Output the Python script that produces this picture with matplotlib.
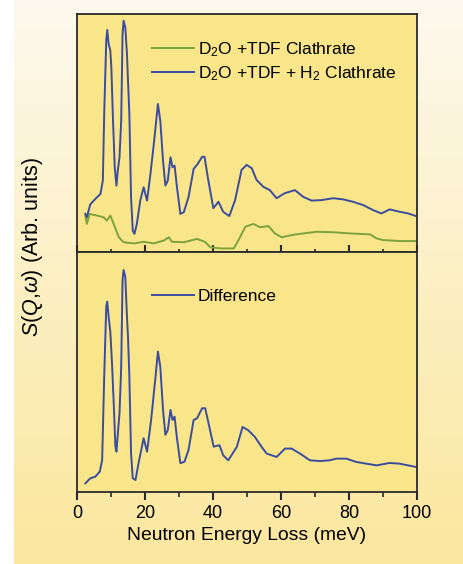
import matplotlib
matplotlib.use("Agg")
import matplotlib.pyplot as plt
import numpy as np
from matplotlib.colors import LinearSegmentedColormap
from matplotlib.ticker import MultipleLocator

plt.rcParams["font.family"] = ["Liberation Sans", "DejaVu Sans"]
plt.rcParams["mathtext.fontset"] = "custom"
plt.rcParams["mathtext.rm"] = "Liberation Sans"
plt.rcParams["mathtext.it"] = "Liberation Sans:italic"

# Energy loss (meV) and intensities (arb. units)
e_h2 = [2.45, 2.9, 3.9, 5.4, 6.9, 7.6, 8.0, 8.6, 8.9, 9.3, 9.8, 10.1, 10.6, 11.1,
        11.6, 12.0, 12.5, 13.0, 13.4, 13.7, 14.2, 14.7, 15.0, 15.4, 15.9, 16.4,
        16.9, 17.6, 18.6, 19.6, 20.6, 21.6, 22.7, 23.8, 24.5, 25.3, 26.0, 26.7,
        27.5, 28.1, 28.7, 29.4, 30.4, 31.4, 32.8, 34.3, 35.5, 36.8, 37.5, 38.6,
        40.1, 41.6, 43.0, 44.8, 46.5, 48.4, 49.9, 51.4, 52.8, 54.8, 56.7, 58.7,
        61.1, 64.1, 66.5, 69.0, 71.9, 75.3, 78.3, 81.2, 84.2, 87.1, 89.5, 92.0,
        94.9, 97.4, 99.7]
s_h2 = [16.0, 14.6, 20.0, 22.3, 24.4, 30.0, 58.0, 88.8, 93.3, 87.4, 84.6, 77.6,
        55.0, 35.6, 27.9, 34.2, 39.8, 55.2, 91.6, 97.2, 94.4, 83.2, 72.0, 58.0,
        23.0, 9.0, 7.6, 11.8, 21.6, 27.2, 21.6, 32.8, 46.8, 62.2, 55.2, 38.4,
        27.9, 30.0, 39.8, 35.6, 36.3, 27.2, 16.0, 16.7, 23.0, 34.9, 37.0, 40.0,
        40.0, 30.3, 18.4, 21.1, 16.9, 15.1, 21.8, 34.5, 36.6, 35.2, 30.3, 27.4,
        26.0, 22.6, 24.7, 26.0, 23.2, 21.6, 21.8, 22.6, 22.1, 21.1, 19.7, 17.6,
        16.2, 17.9, 16.9, 16.2, 15.1]

e_tdf = [2.45, 2.9, 3.7, 5.9, 7.8, 8.8, 9.8, 10.8, 12.3, 13.7, 16.7, 19.6, 22.5,
         25.5, 27.0, 27.9, 31.4, 35.3, 37.7, 39.2, 42.2, 46.1, 47.5, 49.5, 51.9,
         53.8, 56.3, 58.2, 60.2, 63.1, 66.5, 70.5, 75.4, 80.3, 86.2, 88.1, 90.1,
         94.9, 99.8]
s_tdf = [15.3, 11.8, 16.0, 15.3, 14.6, 13.2, 15.3, 11.8, 6.2, 4.1, 3.6, 4.3, 3.6,
         4.8, 6.2, 4.3, 4.1, 5.5, 4.2, 2.0, 1.5, 1.5, 5.0, 10.6, 11.8, 10.4, 10.9,
         7.8, 6.2, 7.1, 7.8, 8.5, 8.3, 7.8, 7.4, 5.7, 5.0, 4.6, 4.6]

e_diff = [2.45, 3.9, 5.4, 6.7, 7.4, 8.0, 8.6, 8.9, 9.3, 9.8, 10.3, 10.8, 11.3,
          11.6, 12.1, 12.5, 13.0, 13.4, 13.7, 14.2, 14.7, 15.0, 15.4, 15.9, 16.4,
          17.2, 18.1, 19.6, 20.6, 21.8, 23.0, 23.8, 24.5, 25.3, 26.0, 26.7, 27.5,
          28.1, 28.7, 29.4, 30.4, 31.6, 32.8, 34.3, 35.3, 36.8, 37.7, 38.7, 40.2,
          41.9, 43.0, 44.5, 47.0, 48.7, 50.4, 52.3, 54.3, 55.8, 58.7, 61.2, 63.1,
          65.6, 68.5, 71.4, 74.3, 76.3, 79.2, 82.2, 85.1, 88.1, 92.0, 94.9, 99.8]
s_diff = [3.6, 5.7, 6.4, 8.5, 13.3, 48.0, 77.2, 79.3, 73.0, 66.8, 53.6, 37.0,
          18.9, 16.8, 25.8, 32.8, 52.2, 88.3, 92.5, 89.7, 73.0, 64.7, 48.0, 16.1,
          5.7, 5.0, 12.0, 22.4, 16.8, 30.0, 46.7, 58.5, 52.2, 34.2, 23.8, 25.8,
          34.2, 30.0, 31.4, 22.4, 12.0, 12.6, 17.5, 30.0, 30.7, 34.9, 34.9, 28.6,
          18.9, 19.5, 15.3, 13.2, 18.8, 27.1, 25.7, 23.0, 18.8, 16.0, 14.6, 18.1,
          18.1, 16.0, 13.2, 12.9, 13.2, 13.9, 13.9, 12.5, 11.8, 11.1, 12.1, 11.8,
          10.4]

blue = "#3b4ca0"
green = "#7ba23f"
face = "#fae68a"
spine = "#2a2a2a"

fig = plt.figure(figsize=(4.63, 5.64), dpi=100, facecolor="white")

# page background: pale at the top, yellow towards the bottom
bg = fig.add_axes([14 / 463, 0, 1 - 14 / 463, 1], zorder=-10)
cmap = LinearSegmentedColormap.from_list("bg", ["#fdf9ee", "#fcf0c4", "#fbe79e"])
bg.imshow(np.linspace(0, 1, 256).reshape(-1, 1), aspect="auto", cmap=cmap,
          extent=[0, 1, 0, 1], origin="upper")
bg.axis("off")

left, right = 77 / 463, 417 / 463
bottom, mid, top = 1 - 492 / 564, 1 - 252 / 564, 1 - 14 / 564
ax1 = fig.add_axes([left, mid, right - left, top - mid])
ax2 = fig.add_axes([left, bottom, right - left, mid - bottom], sharex=ax1)

for ax in (ax1, ax2):
    ax.set_facecolor(face)
    for s in ax.spines.values():
        s.set_linewidth(1.3)
        s.set_color(spine)
    ax.set_xlim(0, 100)
    ax.set_ylim(0, 100)
    ax.set_yticks([])
    ax.xaxis.set_major_locator(MultipleLocator(20))
    ax.xaxis.set_minor_locator(MultipleLocator(10))

ax1.plot(e_tdf, s_tdf, color=green, lw=1.4, label=r"D$_2$O +TDF Clathrate")
ax1.plot(e_h2, s_h2, color=blue, lw=1.4, label=r"D$_2$O +TDF + H$_2$ Clathrate")
ax1.tick_params(axis="x", which="major", direction="in", length=5, width=1.5,
                color=spine, labelbottom=False)
ax1.tick_params(axis="x", which="minor", direction="in", length=2.5, width=1.2,
                color=spine)
leg_kw = dict(loc="upper left", frameon=False, fontsize=12.5, handlelength=2.45,
              handletextpad=0.2, labelspacing=0.3, borderaxespad=0)
ax1.legend(bbox_to_anchor=(0.20, 0.92), **leg_kw)

ax2.plot(e_diff, s_diff, color=blue, lw=1.4, label="Difference")
ax2.tick_params(axis="x", which="major", direction="out", length=6, width=1.5,
                color=spine, labelsize=13, pad=3)
ax2.tick_params(axis="x", which="minor", direction="out", length=3.5, width=1.2,
                color=spine)
ax2.legend(bbox_to_anchor=(0.20, 0.875), **leg_kw)
ax2.set_xlabel("Neutron Energy Loss (meV)", fontsize=13.9, labelpad=4)

fig.text(33 / 463, 1 - 247 / 564, r"$\mathit{S}$($\mathit{Q}$,$\omega$) (Arb. units)",
         rotation=90, ha="center", va="center", fontsize=15.5)

fig.savefig("out.png", dpi=100, facecolor=fig.get_facecolor())
